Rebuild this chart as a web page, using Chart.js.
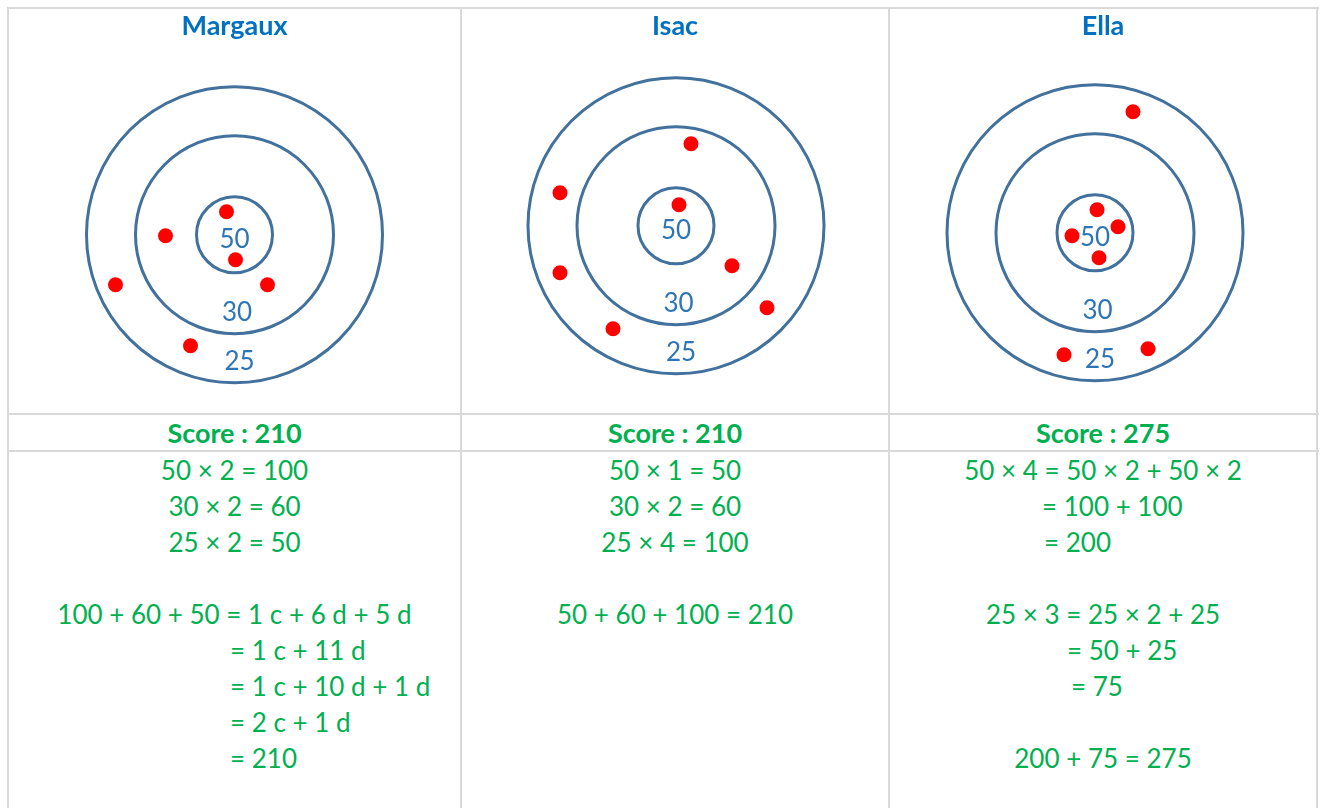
<!DOCTYPE html>
<html>
<head>
<meta charset="utf-8">
<title>Cibles</title>
<script src="https://cdn.jsdelivr.net/npm/chart.js@4.4.1/dist/chart.umd.min.js"></script>
<style>
  body { margin: 0; background: #fff; overflow: hidden; font-family: Lato, "Open Sans", sans-serif; }
  #sheet { position: relative; width: 1321px; height: 808px; overflow: hidden; }
  .line { position: absolute; background: #d9d9d9; }
  .cell { position: absolute; }
  .cell canvas { display: block; }
  .score { color: #00b050; font-weight: bold; font-size: 27px; line-height: 35px; text-align: center; }
  .work { color: #00b050; font-size: 26px; line-height: 36px; }
  .work div { white-space: pre; min-height: 36px; }
  .work .c { text-align: center; }
</style>
</head>
<body>
<div id="sheet"></div>
<script>
// joueurs et scores
const players = ["Margaux", "Isac", "Ella"];
const scores = [210, 210, 275];

// cible : points par zone et rayon des cercles (cm, 1 cm = 10 px)
const ringScores = [50, 30, 25];
const ringRadii = [3.8, 9.9, 14.8];

// impacts (cm depuis le centre, y vers le haut)
const margauxX = [-0.8, -6.9, 0.1, 3.3, -11.9, -4.4];
const margauxY = [2.3, -0.1, -2.5, -5.0, -5.0, -11.1];
const isacX = [1.5, -11.6, 0.3, -11.6, 5.6, 9.1, -6.3];
const isacY = [8.2, 3.3, 2.1, -4.7, -4.0, -8.2, -10.3];
const ellaX = [3.8, 0.2, -2.3, 2.3, 0.4, -3.1, 5.3];
const ellaY = [12.1, 2.3, -0.3, 0.6, -2.5, -12.2, -11.6];

// calculs
const margauxWork = ["50 × 2 = 100", "30 × 2 = 60", "25 × 2 = 50", "",
  "100 + 60 + 50 = 1 c + 6 d + 5 d", "= 1 c + 11 d", "= 1 c + 10 d + 1 d", "= 2 c + 1 d", "= 210"];
const isacWork = ["50 × 1 = 50", "30 × 2 = 60", "25 × 4 = 100", "", "50 + 60 + 100 = 210"];
const ellaWork = ["50 × 4 = 50 × 2 + 50 × 2", "= 100 + 100", "= 200", "",
  "25 × 3 = 25 × 2 + 25", "= 50 + 25", "= 75", "", "200 + 75 = 275"];

const hitsX = [margauxX, isacX, ellaX];
const hitsY = [margauxY, isacY, ellaY];
const works = [margauxWork, isacWork, ellaWork];

// mise en page
const PX = 10;
const colX = [8, 461, 889, 1317];
const rowY = [8, 414, 451];
const topH = 404;
const titleH = 1 + 27 * 1.2 + 8;
const centerShift = [[0, 3], [1, -6], [-8, 1]];
const indents = [{5: 221, 6: 221, 7: 221, 8: 221}, {}, {1: 152, 2: 154, 5: 177, 6: 181}];

const sheet = document.getElementById("sheet");

function addLine(l, t, w, h) {
  const d = document.createElement("div");
  d.className = "line";
  d.style.cssText = `left:${l}px;top:${t}px;width:${w}px;height:${h}px`;
  sheet.appendChild(d);
}

const ringsPlugin = {
  id: "rings",
  beforeDatasetsDraw(chart) {
    const { ctx, scales: { x, y } } = chart;
    const cx = x.getPixelForValue(0), cy = y.getPixelForValue(0);
    ctx.save();
    ctx.strokeStyle = "#41719c";
    ctx.lineWidth = 3;
    ringRadii.forEach(r => {
      ctx.beginPath();
      ctx.arc(cx, cy, x.getPixelForValue(r) - cx, 0, Math.PI * 2);
      ctx.stroke();
    });
    ctx.fillStyle = "#2e75b6";
    ctx.font = "26px Lato";
    ctx.textAlign = "center";
    ctx.textBaseline = "middle";
    ringScores.forEach((s, i) => {
      const ly = i === 0 ? -0.5 : -(ringRadii[i] - 2.1);
      ctx.fillText(String(s), x.getPixelForValue(i * 0.25), y.getPixelForValue(ly));
    });
    ctx.restore();
  }
};

function build() {
  colX.forEach(x => addLine(x - 1, 7, 2, 808));
  rowY.forEach(y => addLine(7, y - 1, 1312, 2));

  players.forEach((name, i) => {
    const left = colX[i] + 1, w = colX[i + 1] - colX[i] - 2;

    // cible
    const top = document.createElement("div");
    top.className = "cell";
    top.style.cssText = `left:${left}px;top:${rowY[0] + 1}px;width:${w}px;height:${topH}px`;
    const canvas = document.createElement("canvas");
    canvas.width = w;
    canvas.height = topH;
    top.appendChild(canvas);
    sheet.appendChild(top);

    const areaH = topH - titleH;
    const [dx, dy] = centerShift[i];
    const pts = hitsX[i].map((v, k) => ({ x: v, y: hitsY[i][k] }));

    new Chart(canvas.getContext("2d"), {
      type: "scatter",
      data: {
        datasets: [{
          data: pts,
          backgroundColor: "#ff0000",
          borderWidth: 0,
          pointRadius: 7.5,
          pointHoverRadius: 7.5
        }]
      },
      options: {
        responsive: false,
        animation: false,
        events: [],
        layout: { padding: 0, autoPadding: false },
        plugins: {
          legend: { display: false },
          tooltip: { enabled: false },
          title: {
            display: true,
            text: name,
            color: "#0070c0",
            font: { family: "Lato", size: 27, weight: "bold", lineHeight: 1.2 },
            padding: { top: 1, bottom: 8 }
          }
        },
        scales: {
          x: { type: "linear", display: false, min: -(w / 2 + dx) / PX, max: (w / 2 - dx) / PX },
          y: { type: "linear", display: false, min: -(areaH / 2 - dy) / PX, max: (areaH / 2 + dy) / PX }
        }
      },
      plugins: [ringsPlugin]
    });

    // score
    const sc = document.createElement("div");
    sc.className = "cell score";
    sc.style.cssText = `left:${left}px;top:${rowY[1] + 1}px;width:${w}px;height:35px`;
    sc.textContent = "Score : " + scores[i];
    sheet.appendChild(sc);

    // calculs
    const wk = document.createElement("div");
    wk.className = "cell work";
    wk.style.cssText = `left:${left}px;top:${rowY[2] + 1}px;width:${w}px`;
    works[i].forEach((t, k) => {
      const ln = document.createElement("div");
      if (indents[i][k] !== undefined) ln.style.paddingLeft = indents[i][k] + "px";
      else ln.className = "c";
      ln.textContent = t;
      wk.appendChild(ln);
    });
    sheet.appendChild(wk);
  });
}

Promise.all([
  document.fonts.load("bold 27px Lato"),
  document.fonts.load("26px Lato")
]).then(build, build);
</script>
</body>
</html>
